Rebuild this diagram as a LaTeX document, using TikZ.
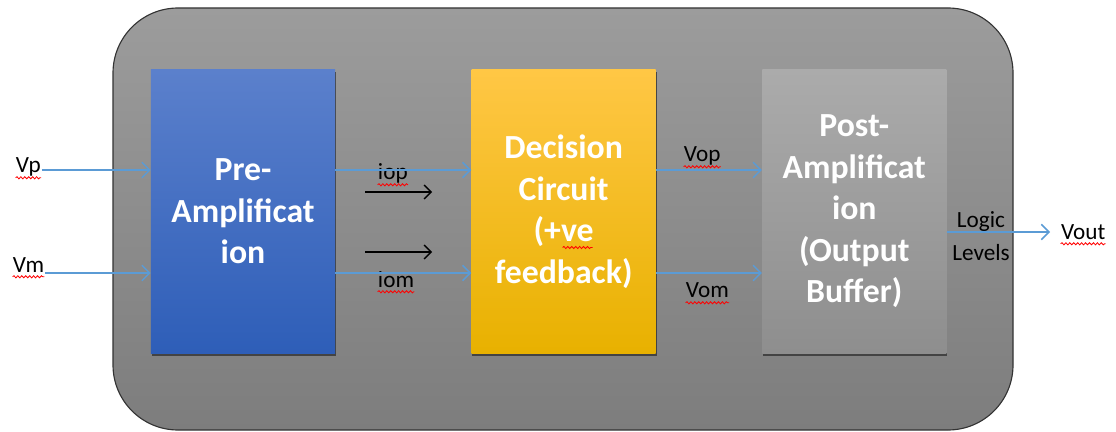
\documentclass[tikz,border=0pt]{standalone}
\usepackage{fontspec}
\setmainfont{Carlito}
\usepackage{xcolor}
\usepackage{tikz}
\usetikzlibrary{positioning,%
  arrows.meta,%
  shadows,%
  decorations.pathmorphing
}

\definecolor{sigblue}{HTML}{5B9BD5}
\definecolor{preTop}{HTML}{5B80CC}
\definecolor{preBot}{HTML}{2E5EB8}
\definecolor{decTop}{HTML}{FFC745}
\definecolor{decMid}{HTML}{FFC000}
\definecolor{decBot}{HTML}{E8B100}
\definecolor{postTop}{HTML}{ABABAB}
\definecolor{postBot}{HTML}{8E8E8E}
\definecolor{boardTop}{HTML}{9C9C9C}
\definecolor{boardBot}{HTML}{7D7D7D}

\tikzset{typo/.style={draw=red, line width=.6pt, decorate,
    decoration={snake, amplitude=.75pt, segment length=2.8pt}}}
\newcommand{\wavy}[1]{\tikz[baseline=(w.base)]{\node[inner sep=0pt] (w) {#1};
    \draw[typo] ([yshift=-3.4pt]w.base west) -- ([yshift=-3.4pt]w.base east);}}

\begin{document}
\begin{tikzpicture}
                    [
                        x=0.025cm, y=-0.025cm,
                        block/.style={minimum width=4.6cm, minimum height=7.075cm, inner sep=0pt,
                            align=center, text=white, font=\fontsize{24}{29.5}\selectfont\bfseries,
                            drop shadow={shadow xshift=.6pt, shadow yshift=-1.8pt, fill=black!80, opacity=.8}},
                        lbl/.style={inner sep=0pt, font=\fontsize{16.5}{20}\selectfont},
                        sig/.style={draw=sigblue, line width=1.1pt, -{Straight Barb[length=5.5pt,width=11pt,line width=1.1pt]}},
                        cur/.style={draw=black, line width=.9pt, -{Straight Barb[length=5pt,width=10pt,line width=.9pt]}}
                    ]
                    
                    \useasboundingbox (0,0) rectangle (1116,432);
                    
                    % Gehaeuse
                    \draw[draw=black!80, line width=.8pt, rounded corners=1.625cm,
                        top color=boardTop, bottom color=boardBot] (113,8) rectangle (1013,430);
                    
                    \coordinate (hi) at (0,170);
                    \coordinate (lo) at (0,273);
                    \coordinate (out) at (0,232);
                    
                    \node[block, top color=preTop, bottom color=preBot] (pre) at (243,211.5) {Pre-\\Amplificat\\ion};
                    \node[block, top color=decTop, middle color=decMid, bottom color=decBot, right=3.4cm of pre] (dec)
                        {Decision\\Circuit\\(+ve\\feedback)};
                    \node[block, top color=postTop, bottom color=postBot, right=2.65cm of dec] (post)
                        {Post-\\Amplificat\\ion\\(Output\\Buffer)};
                    \draw[typo] ([shift={(-1,36)}]dec.center) -- ([shift={(29,36)}]dec.center);
                    
                    \node[lbl, anchor=base west] (vp) at (15,173) {\wavy{Vp}};
                    \node[lbl, anchor=base west] (vm) at (12,272) {\wavy{Vm}};
                    \draw[sig] (vp.east |- hi) -- (pre.west |- hi);
                    \draw[sig] (vm.east |- lo) -- (pre.west |- lo);
                    
                    \node[lbl, anchor=base west] (iop) at (377,180) {\wavy{iop}};
                    \node[lbl, anchor=base west] (iom) at (377,287) {\wavy{iom}};
                    \draw[sig] (pre.east |- hi) -- (dec.west |- hi);
                    \draw[sig] (pre.east |- lo) -- (dec.west |- lo);
                    
                    % Stromrichtung
                    \coordinate (ipa) at (365,192);
                    \coordinate (ipb) at (432,192);
                    \coordinate (ima) at (365,252);
                    \coordinate (imb) at (432,252);
                    \draw[cur] (ipa) -- (ipb);
                    \draw[cur] (ima) -- (imb);
                    
                    \node[lbl, anchor=base west] (vop) at (683,162) {\wavy{Vop}};
                    \node[lbl, anchor=base west] (vom) at (685,298) {\wavy{Vom}};
                    \draw[sig] (dec.east |- hi) -- (post.west |- hi);
                    \draw[sig] (dec.east |- lo) -- (post.west |- lo);
                    
                    \node[lbl, align=center, font=\fontsize{16.5}{23.5}\selectfont] (logic) at (981,236) {Logic\\Levels};
                    \node[lbl, anchor=base west] (vout) at (1060,239) {\wavy{Vout}};
                    \draw[sig] (post.east |- out) -- ([xshift=-7pt]vout.west |- out);
                \end{tikzpicture}
\end{document}
